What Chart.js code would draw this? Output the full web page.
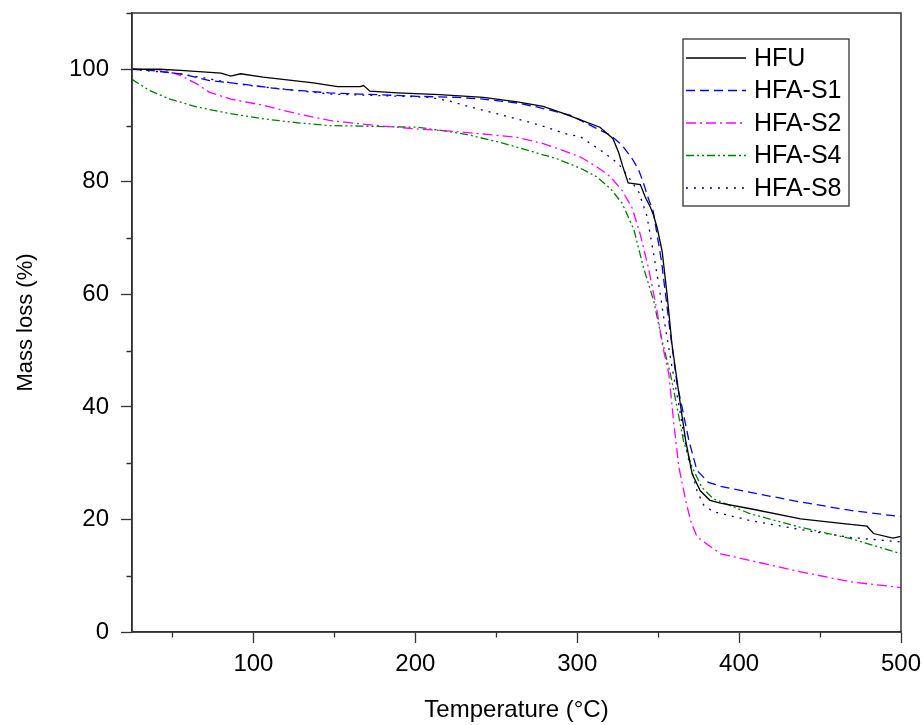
<!DOCTYPE html>
<html lang="en">
<head>
    <meta charset="UTF-8">
    <title>Mass loss vs temperature</title>
    <script src="https://cdn.jsdelivr.net/npm/chart.js"></script>
    <style>
        body { margin: 0; background: #fff; }
    </style>
</head>
<body>
    <canvas id="tgaChart" width="923" height="725"></canvas>

    <script>
        // Values (temperature in °C, mass in %)
        const hfuTemp = [25, 42, 55, 80, 86, 92, 106, 137, 152, 166, 168, 172, 189, 215, 242, 263, 279, 291, 302, 314, 322, 325.5, 328.5, 331.5, 339, 342, 345, 347, 349.5, 352.5, 355.5, 358.5, 364, 367, 371, 376, 382, 388.5, 407, 438, 463, 479, 483, 495, 500];
        const hfuMass = [100, 100, 99.8, 99.3, 98.8, 99.2, 98.6, 97.6, 96.9, 96.9, 97.1, 96.1, 95.8, 95.5, 95.0, 94.2, 93.4, 92.2, 91.0, 89.7, 87.7, 85.3, 82.4, 79.8, 79.5, 77.3, 75.6, 74.2, 71.7, 67.6, 60, 51.2, 39.9, 34, 28.1, 25.1, 23.4, 22.9, 21.9, 20.1, 19.3, 18.8, 17.5, 16.7, 17.0];

        const s1Temp = [25, 36, 55, 73, 92, 116, 147, 166, 201, 226, 242, 263, 275, 288, 296, 312.5, 320.5, 327.7, 334, 338, 341, 344, 347, 352, 357.6, 361.7, 364.8, 369, 374, 381, 388.5, 407, 438, 469, 500];
        const s1Mass = [100, 99.8, 99.2, 98.0, 97.4, 96.5, 95.8, 95.6, 95.2, 95.0, 94.7, 94.0, 93.3, 92.4, 91.8, 89.4, 88.3, 86.5, 84.1, 82.1, 79.7, 77, 74.7, 66, 52.9, 44, 39.9, 34, 28.7, 26.6, 25.9, 24.8, 23.1, 21.6, 20.5];

        const s2Temp = [25, 44, 55, 65, 73, 86, 106, 127, 147, 166, 180, 201, 222, 242, 263, 279, 291, 302, 312, 320.5, 327.7, 334, 339, 344, 349.4, 352.5, 356.6, 359.7, 362.8, 367, 370, 374, 388.5, 407, 438, 469, 500];
        const s2Mass = [100, 99.9, 98.9, 97.4, 95.9, 94.7, 93.6, 92.1, 90.9, 90.3, 89.9, 89.4, 89.0, 88.5, 87.9, 86.8, 85.6, 84.4, 82.7, 80.9, 78.5, 75.3, 70.6, 64.7, 57, 51.2, 45.8, 37, 29.3, 23.4, 19.8, 16.9, 13.9, 12.7, 10.7, 8.9, 7.9];

        const s4Temp = [25, 36, 48.5, 65, 86, 106, 127, 147, 166, 201, 217, 232, 252.5, 273, 287.5, 302, 312, 320.5, 327.7, 335, 341, 347.3, 352.5, 357.6, 361.7, 365.6, 371, 377, 384, 407, 438, 469, 500];
        const s4Mass = [98.2, 96.2, 94.7, 93.3, 92.1, 91.2, 90.5, 90.0, 89.9, 89.7, 89.1, 88.4, 87.0, 85.3, 84.1, 82.4, 80.9, 78.8, 76.2, 71.5, 64.7, 58.8, 51.7, 45.8, 39.9, 34, 29.3, 25.7, 23.7, 21.0, 18.6, 16.6, 13.9];

        const s8Temp = [25, 55, 92, 147, 201, 209, 222, 234, 250.5, 266.7, 281, 292, 302, 316, 325.5, 331.6, 338, 343, 347.3, 350.4, 353.5, 358, 363, 368, 374, 378, 384, 407, 438, 469, 500];
        const s8Mass = [100, 99.2, 97.3, 95.6, 95.1, 95.0, 94.3, 93.3, 92.1, 90.9, 89.7, 88.6, 88.0, 85.3, 83.2, 80.9, 78.2, 74.0, 67, 61.7, 55.8, 48, 40, 31.5, 25.1, 22.6, 21.4, 19.8, 18.2, 16.8, 16.0];

        const seriesNames = ['HFU', 'HFA-S1', 'HFA-S2', 'HFA-S4', 'HFA-S8'];
        const xTicks = [100, 200, 300, 400, 500];
        const xMinorTicks = [50, 150, 250, 350, 450];
        const yTicks = [0, 20, 40, 60, 80, 100];
        const yMinorTicks = [10, 30, 50, 70, 90, 110];

        const FONT = '"Liberation Sans", Arial, sans-serif';
        const AXIS_COLOR = '#333';

        function toPoints(temps, masses) {
            return temps.map((t, i) => ({ x: t, y: masses[i] }));
        }

        // Box around the plot and the short minor ticks
        const frame = {
            id: 'frame',
            afterDraw(chart) {
                const { ctx, chartArea } = chart;
                const xs = chart.scales.x, ys = chart.scales.y;
                ctx.save();
                ctx.strokeStyle = AXIS_COLOR;
                ctx.lineWidth = 1.5;
                ctx.strokeRect(chartArea.left, chartArea.top, chartArea.right - chartArea.left, chartArea.bottom - chartArea.top);
                ctx.lineWidth = 1.3;
                ctx.beginPath();
                xMinorTicks.forEach(v => {
                    const px = Math.round(xs.getPixelForValue(v)) + 0.5;
                    ctx.moveTo(px, chartArea.bottom);
                    ctx.lineTo(px, chartArea.bottom + 5.5);
                });
                yMinorTicks.forEach(v => {
                    const py = Math.round(ys.getPixelForValue(v)) + 0.5;
                    ctx.moveTo(chartArea.left - 5.5, py);
                    ctx.lineTo(chartArea.left, py);
                });
                ctx.stroke();
                ctx.restore();
            }
        };

        // Legend drawn inside the plot, boxed, upper right
        const boxedLegend = {
            id: 'boxedLegend',
            afterDraw(chart) {
                const { ctx, chartArea } = chart;
                const left = chartArea.right - 218;
                const top = chartArea.top + 26;
                ctx.save();
                ctx.fillStyle = '#fff';
                ctx.fillRect(left, top, 166, 167);
                ctx.strokeStyle = AXIS_COLOR;
                ctx.lineWidth = 1.3;
                ctx.strokeRect(left, top, 166, 167);
                ctx.font = '25px ' + FONT;
                ctx.textBaseline = 'middle';
                chart.data.datasets.forEach((ds, i) => {
                    const y = top + 19 + i * 32.5;
                    ctx.strokeStyle = ds.borderColor;
                    ctx.lineWidth = ds.borderWidth;
                    ctx.setLineDash(ds.borderDash || []);
                    ctx.beginPath();
                    ctx.moveTo(left + 3, y);
                    ctx.lineTo(left + 63, y);
                    ctx.stroke();
                    ctx.setLineDash([]);
                    ctx.fillStyle = '#000';
                    ctx.fillText(ds.label, left + 71, y + 1);
                });
                ctx.restore();
            }
        };

        const ctx = document.getElementById('tgaChart').getContext('2d');
        new Chart(ctx, {
            type: 'line',
            data: {
                datasets: [
                    { label: seriesNames[0], data: toPoints(hfuTemp, hfuMass), borderColor: '#000000', borderWidth: 1.3, borderDash: [] },
                    { label: seriesNames[1], data: toPoints(s1Temp, s1Mass), borderColor: '#0000ff', borderWidth: 1.3, borderDash: [9, 5] },
                    { label: seriesNames[2], data: toPoints(s2Temp, s2Mass), borderColor: '#ff00ff', borderWidth: 1.3, borderDash: [10, 4, 2, 4] },
                    { label: seriesNames[3], data: toPoints(s4Temp, s4Mass), borderColor: '#008000', borderWidth: 1.3, borderDash: [8, 3, 2, 3, 2, 3] },
                    { label: seriesNames[4], data: toPoints(s8Temp, s8Mass), borderColor: '#000080', borderWidth: 1.3, borderDash: [2, 6] }
                ]
            },
            options: {
                responsive: false,
                animation: false,
                layout: { padding: { top: 13, right: 22, left: 0, bottom: 0 } },
                elements: { point: { radius: 0 }, line: { tension: 0 } },
                plugins: {
                    legend: { display: false },
                    tooltip: { enabled: false }
                },
                scales: {
                    x: {
                        type: 'linear',
                        min: 25,
                        max: 500,
                        afterBuildTicks: s => { s.ticks = xTicks.map(v => ({ value: v })); },
                        afterFit: s => { s.height = 93; s.paddingLeft = 0; s.paddingRight = 0; },
                        grid: { drawOnChartArea: false, drawTicks: true, tickLength: 11, tickColor: AXIS_COLOR, tickWidth: 1.3 },
                        border: { display: true, color: AXIS_COLOR, width: 1.5 },
                        ticks: { color: '#000', padding: 9, maxRotation: 0, font: { family: FONT, size: 24, lineHeight: 1 } },
                        title: { display: true, text: 'Temperature (°C)', color: '#000', padding: { top: 0, bottom: 0 }, font: { family: FONT, size: 24 } }
                    },
                    y: {
                        min: 0,
                        max: 110,
                        afterBuildTicks: s => { s.ticks = yTicks.map(v => ({ value: v })); },
                        afterFit: s => { s.width = 132; s.paddingTop = 0; s.paddingBottom = 0; },
                        grid: { drawOnChartArea: false, drawTicks: true, tickLength: 11, tickColor: AXIS_COLOR, tickWidth: 1.3 },
                        border: { display: true, color: AXIS_COLOR, width: 1.5 },
                        ticks: { color: '#000', padding: 12, font: { family: FONT, size: 24, lineHeight: 1 } },
                        title: { display: true, text: 'Mass loss (%)', color: '#000', padding: { top: 13, bottom: 0 }, font: { family: FONT, size: 22 } }
                    }
                }
            },
            plugins: [frame, boxedLegend]
        });
    </script>
</body>
</html>
